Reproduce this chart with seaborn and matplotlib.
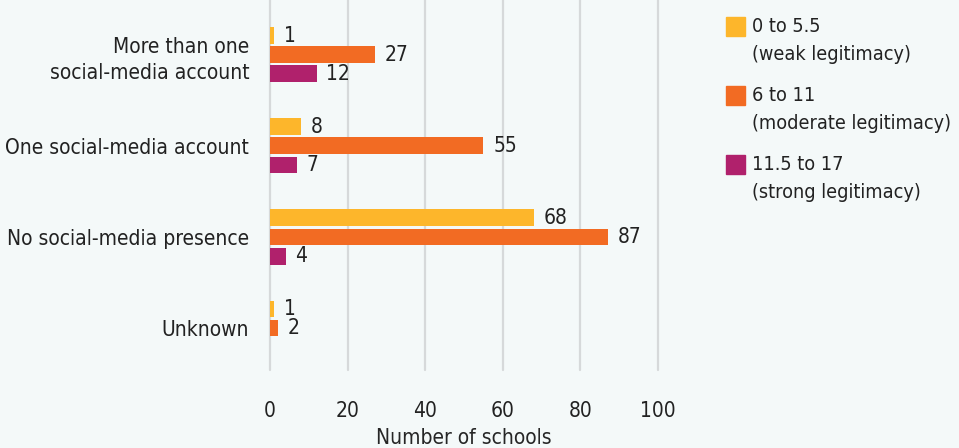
import matplotlib
matplotlib.use("Agg")
import matplotlib.pyplot as plt
import matplotlib.patches as mpatches
import seaborn as sns
import pandas as pd

# Social-media presence of schools by legitimacy score band
categories = ["More than one\nsocial-media account", "One social-media account",
              "No social-media presence", "Unknown"]
band_ranges = ["0 to 5.5", "6 to 11", "11.5 to 17"]
band_names = ["(weak legitimacy)", "(moderate legitimacy)", "(strong legitimacy)"]
weak = [1, 8, 68, 1]
moderate = [27, 55, 87, 2]
strong = [12, 7, 4, 0]
colors = ["#FDB62B", "#F26B23", "#B0216C"]
x_ticks = [0, 20, 40, 60, 80, 100]
x_label = "Number of schools"

bg = "#F4F9F9"
ink = "#222222"
sns.set_theme(style="white")
plt.rcParams["font.family"] = ["DejaVu Sans"]
plt.rcParams["font.stretch"] = "condensed"
plt.rcParams["text.color"] = ink

rows = []
for band, vals in zip(band_ranges, [weak, moderate, strong]):
    for cat, v in zip(categories, vals):
        rows.append({"category": cat, "band": band, "count": v})
df = pd.DataFrame(rows)

W, H = 959, 448
fig = plt.figure(figsize=(W / 100, H / 100), dpi=100, facecolor=bg)
ax = fig.add_axes([270 / W, 1 - 370 / H, 388 / W, 370 / H])
ax.set_facecolor(bg)

sns.barplot(data=df, y="category", x="count", hue="band", order=categories,
            hue_order=band_ranges, palette=colors, orient="h", width=0.63, gap=0.12,
            saturation=1, linewidth=0, ax=ax, legend=False)

fs = 15
for container, vals in zip(ax.containers, [weak, moderate, strong]):
    labels = [str(v) if v > 0 else "" for v in vals]
    ax.bar_label(container, labels=labels, padding=7, fontsize=fs, color=ink)

ax.set_xlim(0, 100)
ax.set_ylim(3.46, -0.6)
ax.set_xticks(x_ticks)
ax.grid(axis="x", color="#D6D9DA", linewidth=1.6)
for gl in ax.get_xgridlines():
    gl.set_clip_on(False)
ax.set_axisbelow(True)
for s in ax.spines.values():
    s.set_visible(False)
ax.tick_params(axis="both", length=0, labelsize=fs, colors=ink)
ax.tick_params(axis="y", pad=15)
ax.tick_params(axis="x", pad=22)
for lab in ax.get_yticklabels():
    lab.set_multialignment("right")
    lab.set_linespacing(1.4)
ax.set_ylabel("")
ax.set_xlabel(x_label, fontsize=fs, labelpad=5)

# Legend: colour square beside the first line of each two-line entry
lfs = 14.2
for i, (rng, name, col) in enumerate(zip(band_ranges, band_names, colors)):
    y_top = 17 + i * 69
    fig.patches.append(mpatches.Rectangle((726 / W, 1 - (y_top + 19) / H), 19 / W, 19 / H,
                                          transform=fig.transFigure, color=col))
    fig.text(752 / W, 1 - (y_top + 9.5) / H, rng, fontsize=lfs, va="center", ha="left", color=ink)
    fig.text(752 / W, 1 - (y_top + 37.5) / H, name, fontsize=lfs, va="center", ha="left", color=ink)

fig.savefig("out.png", dpi=100, facecolor=bg)
